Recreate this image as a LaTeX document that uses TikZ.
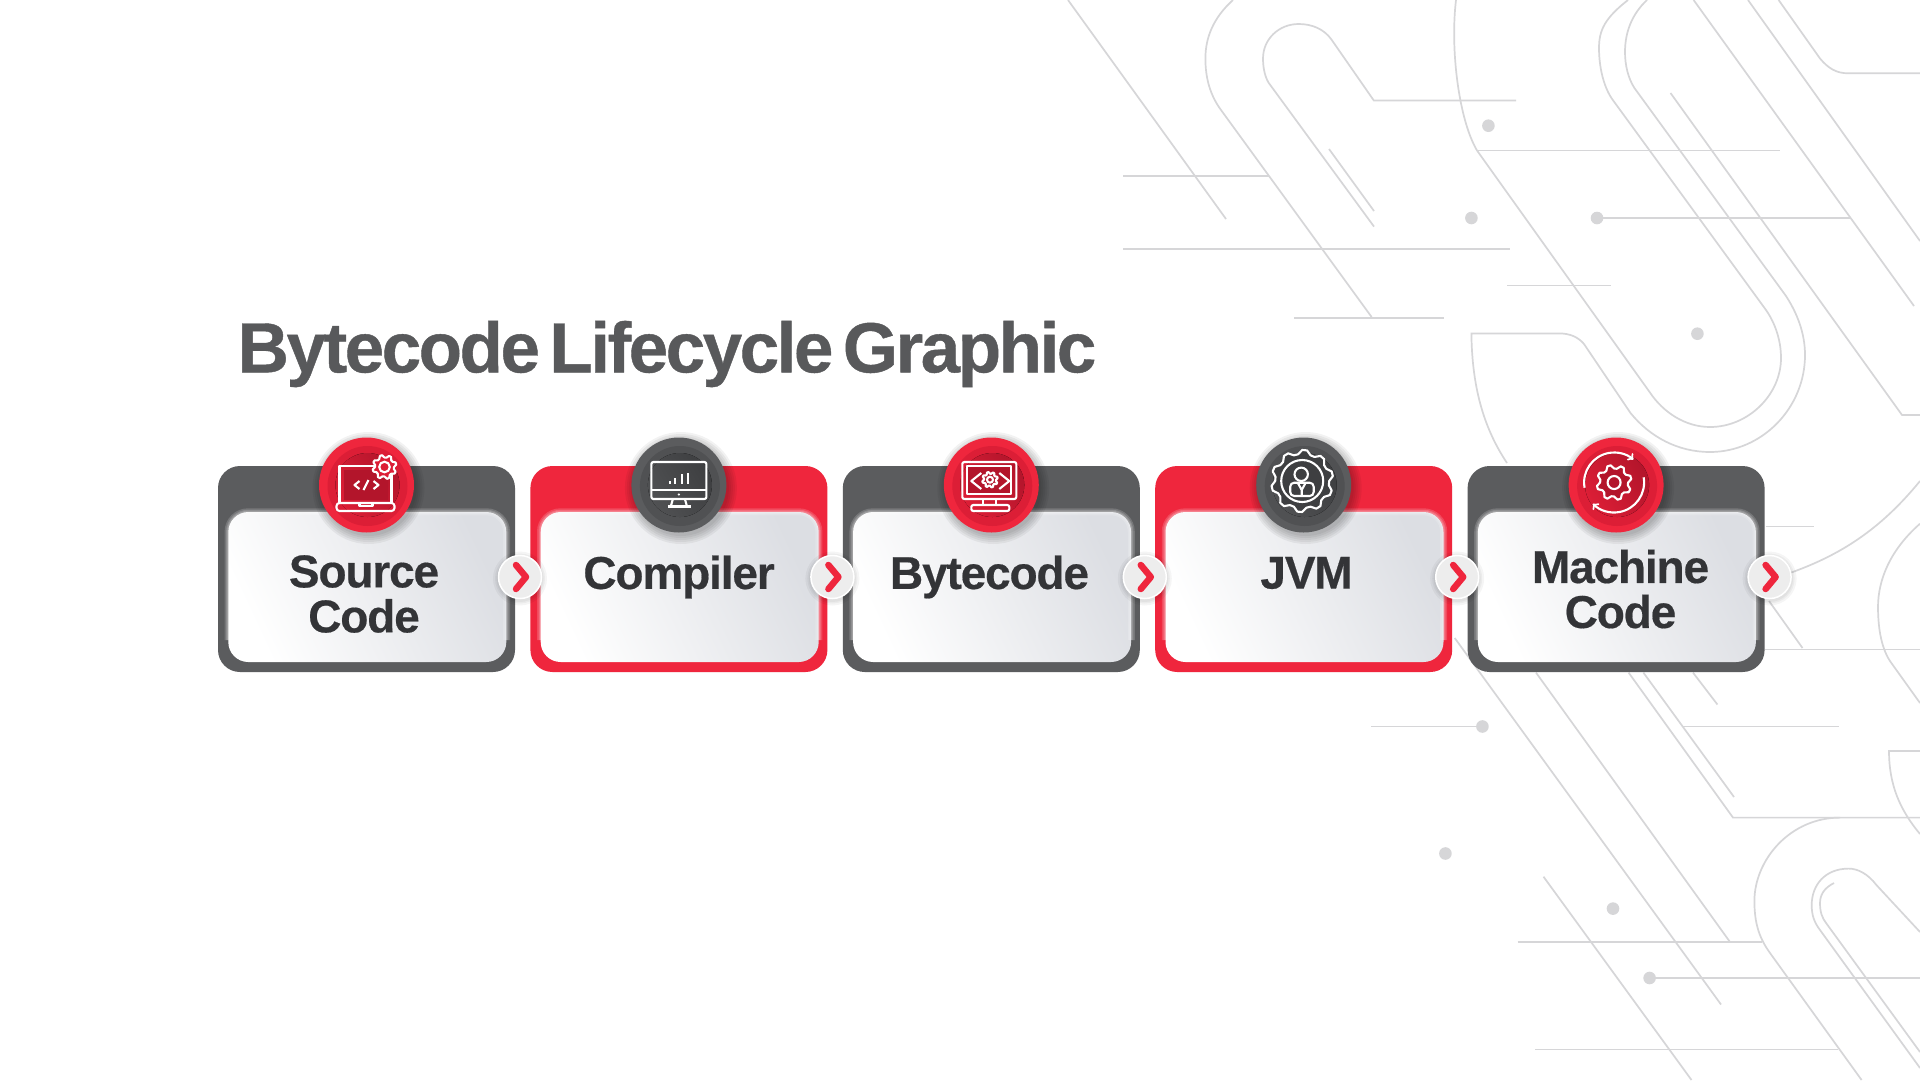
\documentclass[tikz,border=0pt]{standalone}
\usepackage{fontspec}
\newfontfamily\headfont[LetterSpace=-3.5,WordSpace=0.55,FakeBold=0.6]{Liberation Sans}
\newfontfamily\cardfont[LetterSpace=-2.5,FakeBold=0.4]{Liberation Sans}
\definecolor{cardred}{HTML}{EF263D}
\definecolor{cardgray}{HTML}{5B5C5E}
\definecolor{reddark}{HTML}{B3152B}
\definecolor{redmid}{HTML}{DC1E36}
\definecolor{graydark}{HTML}{3E3F41}
\definecolor{graymid}{HTML}{505153}
\definecolor{bglinecol}{HTML}{D6D6D8}
\definecolor{labelcol}{HTML}{333437}
\definecolor{headcol}{HTML}{58595B}
\definecolor{panellow}{HTML}{DCDEE3}
\tikzset{
    bgline/.style={draw=bglinecol, line width=1.7},
    bgdot/.style={fill=bglinecol},
    cardbox/.style={rounded corners=22, minimum width=297, minimum height=206, inner sep=0},
    panelbox/.style={rounded corners=20, minimum width=278, minimum height=150, inner sep=0,
        left color=white, right color=panellow, shading angle=115},
    badge/.style={circle, minimum size=43, inner sep=0, fill=white!93!black, draw=white, line width=1.5},
    disc/.style={circle, minimum size=95, inner sep=0},
    iconline/.style={draw=white, line width=2.1, line join=round},
    cardlabel/.style={align=center, text=labelcol, inner sep=0, font=\cardfont\bfseries\fontsize{46}{45}\selectfont},
    chevron/.style={draw=cardred, line width=6.5, line cap=round, line join=round},
    laptopicon/.pic={
        \fill[reddark] (-23,-15) rectangle (21,15);
        \draw[iconline] (-27,18) -- (-27,-19) -- (25,-19) -- (25,18);
        \draw[iconline,rounded corners=3] (-30,18) rectangle (28,26);
        \draw[iconline] (-7,18) -- (-7,21) -- (6,21) -- (6,18);
        \gearteeth{18}{-18}{12}{9.5}{33}{redmid}
        \draw[iconline] (18,-18) circle (5.3);
        \draw[iconline] (-7,-4) -- (-12,0) -- (-7,4) (7,-4) -- (12,0) -- (7,4) (2,-5) -- (-3,5);
    },
    monitoricon/.pic={
        \draw[iconline,rounded corners=2] (-27.5,-23) rectangle (27.5,14);
        \draw[iconline] (-27.5,5.3) -- (27.5,5.3);
        \draw[iconline] (-6,14) -- (-8,21) (6,14) -- (8,21);
        \draw[iconline] (-11,21.5) -- (12,21.5);
        \fill[white] (0,9.5) circle (1.2);
        \draw[iconline] (-9,-1.3) -- (-9,-4) (-4,-1.3) -- (-4,-7) (3,-1.3) -- (3,-11) (9,-1.3) -- (9,-12);
    },
    screenicon/.pic={
        \fill[reddark] (-24,-19) rectangle (20,9);
        \draw[iconline,rounded corners=2] (-29,-23) rectangle (25,14);
        \draw[iconline] (-24,-19) rectangle (20,9);
        \draw[iconline] (-10,-12) -- (-20,-4) -- (-10,4) (8,-12) -- (18,-4) -- (8,4);
        \gearteeth{-1.3}{-5.3}{7.8}{6}{33}{reddark}
        \draw[iconline] (-1.3,-5.3) circle (3);
        \draw[iconline] (-8,14) -- (-8,20) (5,14) -- (5,20);
        \draw[iconline,rounded corners=2] (-20,20) rectangle (18,26);
    },
    jvmicon/.pic={
        \gearteeth{-1.5}{-4}{31}{27}{41}{graydark}
        \draw[iconline] (-1.5,-4) circle (21);
        \draw[iconline] (-2.5,-10.7) circle (6.7);
        \draw[iconline,rounded corners=4] (-13.5,11) -- (-13.5,-2.3) -- (10,-2.3) -- (10,11) -- cycle;
        \draw[iconline] (-6,-2.3) -- (-2,5) -- (2,-2.3) (-2,5) -- (-2,11);
    },
    cycleicon/.pic={
        \gearteeth{-2}{-2.5}{17.5}{14}{33}{reddark}
        \draw[iconline] (-2,-2.5) circle (6.5);
        \draw[iconline,->] (-2,-2.5) ++(170:30) arc[start angle=170, end angle=310, radius=30];
        \draw[iconline,->] (-2,-2.5) ++(-10:30) arc[start angle=-10, end angle=135, radius=30];
    }
}
\newcommand{\gearteeth}[6]{
    \pgfmathsetmacro{\gearstep}{360/(#5-1)}
    \draw[iconline,fill=#6,shift={(#1,#2)}] plot[domain=0:360,samples=#5]
        (\x:{mod(round(\x/\gearstep),4)<2 ? #4 : #3}) -- cycle;
}
\begin{document}
\begin{tikzpicture}[x=1pt,y=-1pt]
    \useasboundingbox (0,0) rectangle (1920,1080);
    \fill[white] (0,0) rectangle (1920,1080);

    \draw[bgline] (1068,0) -- (1226,219);
    \draw[bgline] (1123,176) -- (1268.5,176);
    \draw[bgline] (1233,0) .. controls (1213,18) and (1205.4,38) .. (1205.4,58.5) .. controls (1205.4,78) and (1210,95) .. (1221,110) -- (1371.6,317);
    \draw[bgline] (1294,318) -- (1444,318);
    \draw[bgline] (1374,226.6) -- (1268.5,82.6) .. controls (1264,75) and (1263,65) .. (1263,58.5) .. controls (1263,39) and (1279,24) .. (1298.6,24) .. controls (1312,24) and (1324,29) .. (1331.5,39.6) -- (1373.8,100.5) -- (1516,100.5);
    \draw[bgline] (1329,149) -- (1374,211);
    \draw[bgline] (1123,249) -- (1510,249);
    \draw[bgline] (1597,218) -- (1850,218);
    \draw[bgline] (1477,150.5) -- (1780,150.5);
    \draw[bgline] (1507,285.5) -- (1611,285.5);
    \draw[bgline] (1456,0) .. controls (1450,50) and (1459,120) .. (1477,150.5) -- (1650,392.6)
        .. controls (1663,412) and (1685,427) .. (1710,427) .. controls (1748,427) and (1781,395) .. (1781,358)
        .. controls (1781,340) and (1775,323) .. (1766,310) -- (1612.8,100)
        .. controls (1604,88) and (1599,68) .. (1599,48) .. controls (1599,30) and (1605,18) .. (1628,0);
    \draw[bgline] (1647,0) .. controls (1632,14) and (1625,32) .. (1625,52) .. controls (1625,65) and (1628,78) .. (1634.4,88) -- (1786,296)
        .. controls (1797,313) and (1805,333) .. (1805,355) .. controls (1805,408) and (1762,452) .. (1710,452)
        .. controls (1678,452) and (1650,437) .. (1630.5,413) -- (1584,344)
        .. controls (1578,337) and (1570,333.4) .. (1559,333.4) -- (1471.4,333.4)
        .. controls (1472,390) and (1485,430) .. (1507,463);
    \draw[bgline] (1670.5,93) -- (1902,415) -- (1920,415);
    \draw[bgline] (1693.6,0) -- (1914,306);
    \draw[bgline] (1748,0) -- (1920,241);
    \draw[bgline] (1778.6,0) -- (1820,58.5) .. controls (1828,68) and (1836,73.3) .. (1848,73.3) -- (1920,73.3);

    \draw[bgline] (1920,481) .. controls (1880,530) and (1840,555) .. (1791,572.6);
    \draw[bgline] (1765.5,526.5) -- (1813.5,526.5);
    \draw[bgline] (1765,649.4) -- (1920,649.4);
    \draw[bgline] (1769,601) -- (1802.5,648);
    \draw[bgline] (1454.7,638) -- (1721,1004.5);
    \draw[bgline] (1536,672.6) -- (1730,942);
    \draw[bgline] (1517.6,942) -- (1762,942);
    \draw[bgline] (1628.6,672.6) -- (1733,817.6) -- (1920,817.6);
    \draw[bgline] (1643.4,672.6) -- (1734,797);
    \draw[bgline] (1693,672.6) -- (1717.4,704.5);
    \draw[bgline] (1682,726.5) -- (1839.4,726.5);
    \draw[bgline] (1371.4,726.5) -- (1482.4,726.5);
    \draw[bgline] (1649.6,978) -- (1920,978);
    \draw[bgline] (1543.5,876.7) -- (1691.5,1080);
    \draw[bgline] (1535,1049.4) -- (1837.6,1049.4);
    \draw[bgline] (1840,817.6) .. controls (1790,817.6) and (1754.4,860) .. (1754.4,901) .. controls (1754.4,925) and (1760,939) .. (1770,953) -- (1861.6,1080);
    \draw[bgline] (1920,932) -- (1876.4,885) .. controls (1868,874) and (1858,868.6) .. (1848.7,868.6) .. controls (1825,868.6) and (1811.7,885) .. (1811.7,905) .. controls (1811.7,915) and (1814,922) .. (1820,930) -- (1920,1068);
    \draw[bgline] (1834,883) .. controls (1824,888) and (1820,895) .. (1820,903) .. controls (1820,912) and (1822,918) .. (1826.5,923.6) -- (1920,1052);
    \draw[bgline] (1920,523.7) .. controls (1890,550) and (1878,580) .. (1878,607) .. controls (1878,630) and (1882,650) .. (1891,662.5) -- (1920,703);
    \draw[bgline] (1920,751) -- (1889,751) .. controls (1889,785) and (1900,810) .. (1920,834);

    \foreach \dotx/\doty in {1488.4/125.7,1471.4/218,1597/218,1697.4/333.7,1482.4/726.5,1445.4/853.5,1613/908.6,1649.6/978}
        \fill[bgdot] (\dotx,\doty) circle (6.3);

    \node[text=headcol, inner sep=0, font=\headfont\bfseries\fontsize{71}{71}\selectfont] (title) at (667,354) {Bytecode Lifecycle Graphic};

    \foreach \i/\cardcol/\dotcol/\dotmid/\dotdark/\iconname in {
        0/cardgray/cardred/redmid/reddark/laptopicon,
        1/cardred/cardgray/graymid/graydark/monitoricon,
        2/cardgray/cardred/redmid/reddark/screenicon,
        3/cardred/cardgray/graymid/graydark/jvmicon,
        4/cardgray/cardred/redmid/reddark/cycleicon} {
        \pgfmathsetmacro{\cardx}{366.5+312.4*\i}
        \node[cardbox, fill=\cardcol] (card\i) at (\cardx,569) {};
        \node[panelbox] (panel\i) at (\cardx+.8,587) {};
        \foreach \g in {7,4,2}
            \draw[white, opacity=.17, line width=\g, rounded corners=20] ([yshift=22]panel\i.south west) |- (panel\i.north) -| ([yshift=22]panel\i.south east);
        \foreach \r in {56,54,52,50,48}
            \fill[black, opacity=.05] (\cardx+2,488) circle (\r);
        \node[disc, fill=\dotcol] (circ\i) at (\cardx,485) {};
        \fill[\dotmid] (\cardx+1,486) circle (40);
        \fill[left color=\dotmid, right color=\dotdark, shading angle=120] (\cardx+1,485) circle (32);
        \pic at (circ\i) {\iconname};
    }

    \node[cardlabel] (lblsource) at (364,594) {Source\\Code};
    \node[cardlabel] (lblcompiler) at (679,577) {Compiler};
    \node[cardlabel] (lblbytecode) at (989.5,577) {Bytecode};
    \node[cardlabel] (lbljvm) at (1306.5,573) {JVM};
    \node[cardlabel] (lblmachine) at (1620.5,589) {Machine\\Code};

    \foreach \i in {0,...,4} {
        \pgfmathsetmacro{\badgex}{520+312.4*\i}
        \foreach \r in {27,25,23.5}
            \fill[black, opacity=.04] (\badgex,578.5) circle (\r);
        \node[badge] (badge\i) at (\badgex,577) {};
        \draw[chevron] ([shift={(-4,-12)}]badge\i.center) -- ([shift={(6,0)}]badge\i.center) -- ([shift={(-4,12)}]badge\i.center);
    }
\end{tikzpicture}
\end{document}
